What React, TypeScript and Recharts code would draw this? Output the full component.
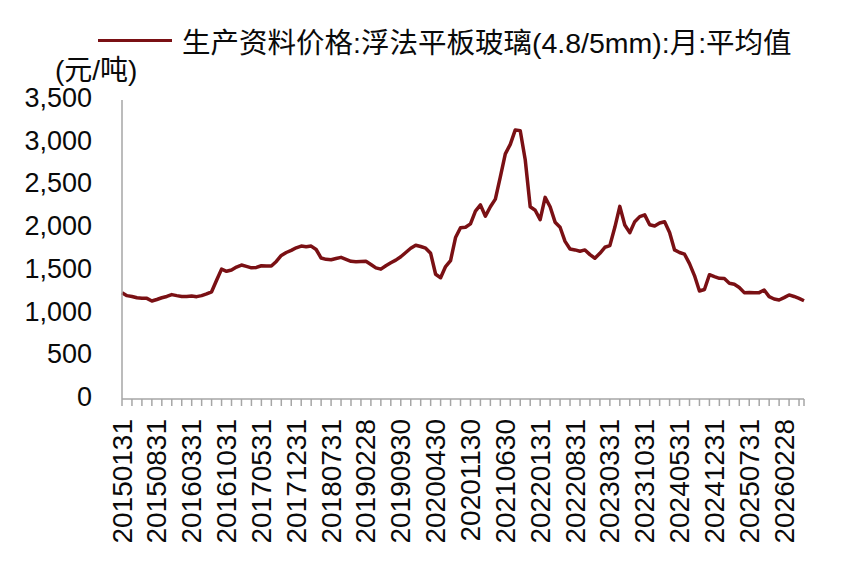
import { LineChart, Line, XAxis, YAxis } from 'recharts'

// 浮法平板玻璃(4.8/5mm) 月均价, 元/吨
const START_YEAR = 2015
const START_MONTH = 0 // January

const prices = [
  1245, 1210, 1200, 1185, 1180, 1178, 1147, 1165, 1185, 1200, 1222, 1210,
  1200, 1200, 1205, 1198, 1210, 1230, 1255, 1390, 1520, 1495, 1510, 1545,
  1568, 1552, 1535, 1540, 1560, 1558, 1556, 1610, 1680, 1715, 1740, 1770,
  1790, 1782, 1790, 1750, 1650, 1635, 1630, 1645, 1658, 1635, 1612, 1608,
  1610, 1612, 1575, 1535, 1520, 1560, 1595, 1625, 1665, 1715, 1765, 1800,
  1785, 1765, 1705, 1460, 1420, 1550, 1620, 1890, 2005, 2010, 2050, 2200,
  2272, 2140, 2250, 2340, 2600, 2870, 2980, 3150, 3140, 2800, 2250, 2210,
  2100, 2360, 2250, 2070, 2010, 1845, 1755, 1745, 1730, 1745, 1690, 1648,
  1706, 1776, 1795, 2010, 2255, 2037, 1947, 2076, 2135, 2155, 2040, 2025,
  2060, 2075, 1950, 1745, 1715, 1695, 1585, 1445, 1264, 1282, 1455, 1432,
  1413, 1410, 1355, 1343, 1305, 1245, 1248, 1245, 1245, 1276, 1198, 1171,
  1159, 1187, 1218, 1200, 1178, 1150,
]

const yTicks = [0, 500, 1000, 1500, 2000, 2500, 3000, 3500]

const SERIES_NAME = '生产资料价格:浮法平板玻璃(4.8/5mm):月:平均值'
const UNIT = '(元/吨)'

// month-end dates as yyyymmdd
const monthEnd = (i: number) => {
  const y = START_YEAR + Math.floor((START_MONTH + i) / 12)
  const m = (START_MONTH + i) % 12
  const d = new Date(y, m + 1, 0).getDate()
  return `${y}${String(m + 1).padStart(2, '0')}${String(d).padStart(2, '0')}`
}

const dates = prices.map((_, i) => monthEnd(i))
const data = dates.map((date, i) => ({ date, price: prices[i] }))

const FONT = '"Liberation Sans", Arial, "Noto Sans CJK SC", sans-serif'
const AXIS = '#a6a6a6'
const LINE = '#7a1014'
const TEXT = '#0a0a0a'

function DateTick(props: any) {
  const { x, y, payload } = props
  const i = props.index ?? payload.index
  const last = i === data.length - 1
  return (
    <g>
      {(i % 2 === 0 || last) && (
        <line x1={x} x2={x} y1={y} y2={y + 7} stroke={AXIS} strokeWidth={1.5} />
      )}
      {i % 7 === 0 && (
        <text
          transform={`translate(${x},${y + 20}) rotate(-90)`}
          textAnchor="end"
          dominantBaseline="central"
          fontSize={28}
          fontFamily={FONT}
          fill={TEXT}
        >
          {payload.value}
        </text>
      )}
    </g>
  )
}

function ValueTick(props: any) {
  const { x, y, payload } = props
  return (
    <text
      x={x - 22}
      y={y - 2}
      textAnchor="end"
      dominantBaseline="central"
      fontSize={27}
      fontFamily={FONT}
      fill={TEXT}
    >
      {Number(payload.value).toLocaleString('en-US')}
    </text>
  )
}

export default function App() {
  return (
    <div style={{ position: 'absolute', left: 0, top: 0, width: 842, height: 583, background: '#fff' }}>
      <div
        style={{
          position: 'absolute', left: 98, top: 20, display: 'flex', alignItems: 'center',
          fontFamily: FONT, fontSize: 28.5, color: TEXT, whiteSpace: 'nowrap',
        }}
      >
        <span style={{ display: 'inline-block', width: 74, height: 3.5, background: LINE, marginRight: 10 }} />
        <span>{SERIES_NAME}</span>
      </div>
      <div style={{ position: 'absolute', left: 55, top: 48, fontFamily: FONT, fontSize: 28, color: TEXT }}>
        {UNIT}
      </div>
      <LineChart width={842} height={583} data={data} margin={{ top: 100, right: 38, left: 0, bottom: 0 }}>
        <XAxis
          dataKey="date"
          interval={0}
          height={184}
          tickSize={0}
          tickMargin={0}
          tickLine={false}
          axisLine={{ stroke: AXIS, strokeWidth: 1.5 }}
          tick={<DateTick />}
        />
        <YAxis
          width={122}
          domain={[0, 3500]}
          ticks={yTicks}
          tickLine={false}
          axisLine={{ stroke: AXIS, strokeWidth: 1.5 }}
          tick={<ValueTick />}
        />
        <Line
          dataKey="price"
          stroke={LINE}
          strokeWidth={3.5}
          strokeLinejoin="round"
          dot={false}
          type="linear"
          isAnimationActive={false}
        />
      </LineChart>
    </div>
  )
}
